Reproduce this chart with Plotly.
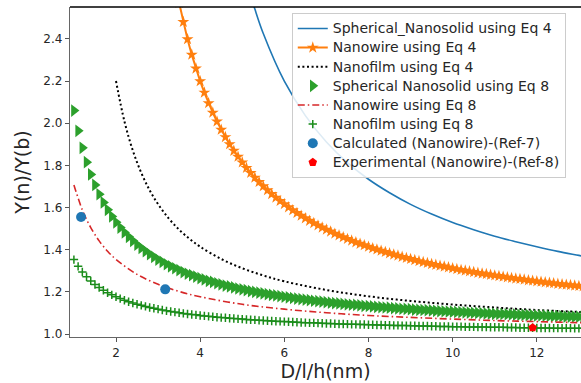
import plotly.graph_objects as go

# ---------------- data ----------------
X_GRID = [1.0, 1.1, 1.2, 1.3, 1.4, 1.5, 1.6, 1.7, 1.8, 1.9,
          2.0, 2.1, 2.2, 2.3, 2.4, 2.5, 2.6, 2.7, 2.8, 2.9,
          3.0, 3.1, 3.2, 3.3, 3.4, 3.5, 3.6, 3.7, 3.8, 3.9,
          4.0, 4.1, 4.2, 4.3, 4.4, 4.5, 4.6, 4.7, 4.8, 4.9,
          5.0, 5.1, 5.2, 5.3, 5.4, 5.5, 5.6, 5.7, 5.8, 5.9,
          6.0, 6.1, 6.2, 6.3, 6.4, 6.5, 6.6, 6.7, 6.8, 6.9,
          7.0, 7.1, 7.2, 7.3, 7.4, 7.5, 7.6, 7.7, 7.8, 7.9,
          8.0, 8.1, 8.2, 8.3, 8.4, 8.5, 8.6, 8.7, 8.8, 8.9,
          9.0, 9.1, 9.2, 9.3, 9.4, 9.5, 9.6, 9.7, 9.8, 9.9,
          10.0, 10.1, 10.2, 10.3, 10.4, 10.5, 10.6, 10.7, 10.8, 10.9,
          11.0, 11.1, 11.2, 11.3, 11.4, 11.5, 11.6, 11.7, 11.8, 11.9,
          12.0, 12.1, 12.2, 12.3, 12.4, 12.5, 12.6, 12.7, 12.8, 12.9,
          13.0, 13.1]

# Spherical Nanosolid using Eq 8 (triangles)
sph_eq8 = [2.060, 1.964, 1.883, 1.815, 1.757, 1.707, 1.663, 1.624, 1.589, 1.558,
           1.530, 1.505, 1.482, 1.461, 1.442, 1.424, 1.408, 1.393, 1.379, 1.366,
           1.353, 1.342, 1.331, 1.321, 1.312, 1.303, 1.294, 1.286, 1.279, 1.272,
           1.265, 1.259, 1.252, 1.247, 1.241, 1.236, 1.230, 1.226, 1.221, 1.216,
           1.212, 1.208, 1.204, 1.200, 1.196, 1.193, 1.189, 1.186, 1.183, 1.180,
           1.177, 1.174, 1.171, 1.168, 1.166, 1.163, 1.161, 1.158, 1.156, 1.154,
           1.151, 1.149, 1.147, 1.145, 1.143, 1.141, 1.139, 1.138, 1.136, 1.134,
           1.133, 1.131, 1.129, 1.128, 1.126, 1.125, 1.123, 1.122, 1.120, 1.119,
           1.118, 1.116, 1.115, 1.114, 1.113, 1.112, 1.110, 1.109, 1.108, 1.107,
           1.106, 1.105, 1.104, 1.103, 1.102, 1.101, 1.100, 1.099, 1.098, 1.097,
           1.096, 1.095, 1.095, 1.094, 1.093, 1.092, 1.091, 1.091, 1.090, 1.089,
           1.088, 1.088, 1.087, 1.086, 1.085, 1.085, 1.084, 1.083, 1.083, 1.082,
           1.082, 1.081]

# Nanofilm using Eq 8 (+ markers)
film_eq8 = [1.353, 1.321, 1.294, 1.272, 1.252, 1.235, 1.221, 1.208, 1.196, 1.186,
            1.177, 1.168, 1.160, 1.153, 1.147, 1.141, 1.136, 1.131, 1.126, 1.122,
            1.118, 1.114, 1.110, 1.107, 1.104, 1.101, 1.098, 1.095, 1.093, 1.091,
            1.088, 1.086, 1.084, 1.082, 1.080, 1.078, 1.077, 1.075, 1.074, 1.072,
            1.071, 1.069, 1.068, 1.067, 1.065, 1.064, 1.063, 1.062, 1.061, 1.060,
            1.059, 1.058, 1.057, 1.056, 1.055, 1.054, 1.053, 1.053, 1.052, 1.051,
            1.050, 1.050, 1.049, 1.048, 1.048, 1.047, 1.046, 1.046, 1.045, 1.045,
            1.044, 1.044, 1.043, 1.043, 1.042, 1.042, 1.041, 1.041, 1.040, 1.040,
            1.039, 1.039, 1.038, 1.038, 1.038, 1.037, 1.037, 1.036, 1.036, 1.036,
            1.035, 1.035, 1.035, 1.034, 1.034, 1.034, 1.033, 1.033, 1.033, 1.032,
            1.032, 1.032, 1.032, 1.031, 1.031, 1.031, 1.030, 1.030, 1.030, 1.030,
            1.029, 1.029, 1.029, 1.029, 1.028, 1.028, 1.028, 1.028, 1.028, 1.027,
            1.027, 1.027]

# Nanowire using Eq 4 (stars), starts at x = 3.5
x_wire_eq4 = X_GRID[25:]
wire_eq4 = [2.571, 2.480, 2.398, 2.325, 2.259,
            2.199, 2.145, 2.095, 2.050, 2.008, 1.969, 1.934, 1.900, 1.869, 1.841,
            1.814, 1.788, 1.764, 1.742, 1.721, 1.701, 1.682, 1.664, 1.647, 1.631,
            1.616, 1.601, 1.587, 1.574, 1.561, 1.549, 1.537, 1.526, 1.515, 1.505,
            1.495, 1.486, 1.476, 1.468, 1.459, 1.451, 1.443, 1.435, 1.428, 1.421,
            1.414, 1.407, 1.401, 1.395, 1.389, 1.383, 1.377, 1.372, 1.366, 1.361,
            1.356, 1.351, 1.346, 1.341, 1.337, 1.332, 1.328, 1.324, 1.320, 1.316,
            1.312, 1.308, 1.304, 1.301, 1.297, 1.294, 1.290, 1.287, 1.284, 1.281,
            1.278, 1.275, 1.272, 1.269, 1.266, 1.263, 1.261, 1.258, 1.255, 1.253,
            1.250, 1.248, 1.245, 1.243, 1.241, 1.238, 1.236, 1.234, 1.232, 1.230,
            1.228, 1.226]

# Spherical_Nanosolid using Eq 4 (solid blue line)
x_sph_eq4 = [5.2, 5.3, 5.5, 6.0, 6.5, 7.0, 7.5, 8.0, 8.5, 9.0, 9.5, 10.0,
             10.5, 11.0, 11.5, 12.0, 12.5, 13.0, 13.1]
sph_eq4 = [2.606, 2.541, 2.425, 2.199, 2.036, 1.911, 1.813, 1.734, 1.670, 1.615,
           1.569, 1.529, 1.495, 1.464, 1.438, 1.414, 1.392, 1.373, 1.369]

# Nanofilm using Eq 4 (dotted line)
x_film_eq4 = [2.0, 2.2, 2.4, 2.6, 2.8, 3.0, 3.25, 3.5, 3.75, 4.0, 4.5, 5.0,
              5.5, 6.0, 7.0, 8.0, 9.0, 10.0, 11.0, 12.0, 13.0, 13.1]
film_eq4 = [2.200, 2.009, 1.870, 1.765, 1.682, 1.616, 1.549, 1.495, 1.451, 1.414,
            1.356, 1.312, 1.278, 1.250, 1.209, 1.179, 1.157, 1.140, 1.126, 1.114,
            1.105, 1.104]

# Nanowire using Eq 8 (dash-dot line)
x_wire_eq8 = [1.0, 1.2, 1.4, 1.6, 1.8, 2.0, 2.5, 3.0, 3.5, 4.0, 5.0, 6.0,
              7.0, 8.0, 9.0, 10.0, 11.0, 12.0, 13.0, 13.1]
wire_eq8 = [1.707, 1.589, 1.505, 1.442, 1.393, 1.354, 1.283, 1.236, 1.202, 1.177,
            1.141, 1.118, 1.101, 1.088, 1.079, 1.071, 1.064, 1.059, 1.054, 1.054]

# Calculated (Nanowire)-(Ref-7)
x_calc = [1.17, 3.17]
y_calc = [1.555, 1.212]

# Experimental (Nanowire)-(Ref-8)
x_exp = [11.9]
y_exp = [1.030]

X_TICKS = [2, 4, 6, 8, 10, 12]
Y_TICKS = [1.0, 1.2, 1.4, 1.6, 1.8, 2.0, 2.2, 2.4]

# ---------------- figure ----------------
FONT = "DejaVu Sans"
LEG_TXT = "<span style='font-size:14px'>%s</span>"
fig = go.Figure()

fig.add_trace(go.Scatter(x=x_sph_eq4, y=sph_eq4, mode="lines", line_shape="spline",
                         name=LEG_TXT % "Spherical_Nanosolid using Eq 4",
                         line=dict(color="#1f77b4", width=1.6)))
fig.add_trace(go.Scatter(x=x_wire_eq4, y=wire_eq4, mode="lines+markers",
                         name=LEG_TXT % "Nanowire using Eq 4",
                         line=dict(color="#ff7f0e", width=2),
                         marker=dict(symbol="star", size=9, color="#ff7f0e")))
fig.add_trace(go.Scatter(x=x_film_eq4, y=film_eq4, mode="lines", line_shape="spline",
                         name=LEG_TXT % "Nanofilm using Eq 4",
                         line=dict(color="black", width=2, dash="2px,2.6px")))
fig.add_trace(go.Scatter(x=X_GRID, y=sph_eq8, mode="markers",
                         name=LEG_TXT % "Spherical Nanosolid using Eq 8",
                         marker=dict(symbol="triangle-right", size=11, color="#2ca02c")))
fig.add_trace(go.Scatter(x=x_wire_eq8, y=wire_eq8, mode="lines", line_shape="spline",
                         name=LEG_TXT % "Nanowire using Eq 8",
                         line=dict(color="#d62728", width=1.6, dash="7px,3px,1.5px,3px")))
fig.add_trace(go.Scatter(x=X_GRID, y=film_eq8, mode="markers",
                         name=LEG_TXT % "Nanofilm using Eq 8",
                         marker=dict(symbol="cross-thin", size=6, color="#1a8c1a",
                                     line=dict(color="#1a8c1a", width=1.5))))
fig.add_trace(go.Scatter(x=x_calc, y=y_calc, mode="markers",
                         name=LEG_TXT % "Calculated (Nanowire)-(Ref-7)",
                         marker=dict(symbol="circle", size=10, color="#1f77b4")))
fig.add_trace(go.Scatter(x=x_exp, y=y_exp, mode="markers",
                         name=LEG_TXT % "Experimental (Nanowire)-(Ref-8)",
                         marker=dict(symbol="pentagon", size=9, color="red")))

axis_common = dict(showgrid=False, zeroline=False, showline=True, linecolor="#666666",
                   linewidth=1.3, ticks="outside", ticklen=4, tickwidth=1,
                   tickcolor="#555555", tickfont=dict(family=FONT, size=12, color="#262626"))

fig.update_layout(
    width=581, height=383,
    margin=dict(l=70, r=0, t=7, b=46),
    paper_bgcolor="white", plot_bgcolor="white",
    font=dict(family=FONT, color="#262626"),
    xaxis=dict(range=[0.907, 13.05], tickvals=X_TICKS,
               title=dict(text="D/l/h(nm)", font=dict(family=FONT, size=19, color="#262626"),
                          standoff=6),
               **axis_common),
    yaxis=dict(range=[0.986, 2.551], tickvals=Y_TICKS, tickformat=".1f",
               title=dict(text="Y(n)/Y(b)", font=dict(family=FONT, size=19, color="#262626"),
                          standoff=8),
               **axis_common),
    legend=dict(x=0.434, y=0.982, xanchor="left", yanchor="top",
                bgcolor="rgba(255,255,255,0.85)", bordercolor="#cccccc", borderwidth=1,
                font=dict(family=FONT, size=12.4, color="#262626"), tracegroupgap=0),
    showlegend=True,
    shapes=[dict(type="line", xref="paper", yref="paper", x0=0, x1=1, y0=1, y1=1,
                 line=dict(color="black", width=1.5))],
)

fig.write_html("out.html", config={"displayModeBar": False},
               post_script="document.body.style.margin='0';")
